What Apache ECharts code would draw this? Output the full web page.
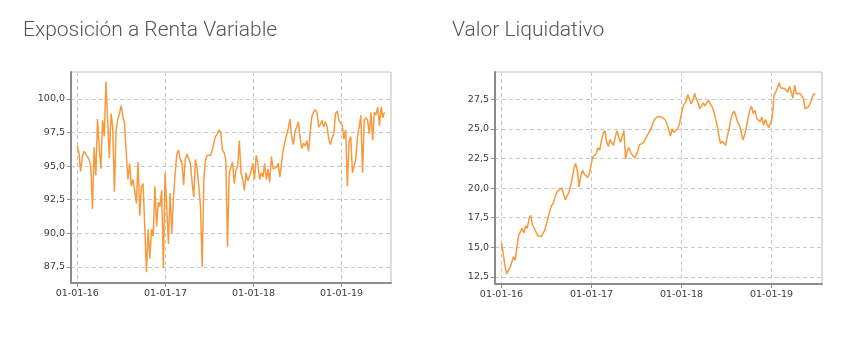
<!DOCTYPE html>
<html>
<head>
<meta charset="utf-8">
<script src="https://cdn.jsdelivr.net/npm/echarts@6/dist/echarts.min.js"></script>
<style>
  html, body { margin: 0; padding: 0; background: #fff; }
  #chart { width: 867px; height: 351px; }
</style>
</head>
<body>
<div id="chart"></div>
<script>
// weekly points, starting 01-01-2016 (one row = one quarter)
var startDate = Date.UTC(2016, 0, 1);
var stepDays = 7;

var exposicion = [
  96.5, 96.0, 94.6, 95.7, 96.1, 96.0, 95.7, 95.5, 95.0, 91.8, 96.4, 94.3, 98.5,
  96.4, 94.8, 98.4, 97.2, 101.3, 98.4, 95.6, 98.9, 97.9, 93.1, 97.7, 98.5, 98.9,
  99.5, 98.7, 98.2, 96.0, 94.0, 95.2, 93.5, 94.0, 93.2, 92.2, 95.3, 91.3, 93.5,
  93.7, 93.6, 87.1, 90.3, 88.1, 90.3, 89.8, 93.5, 90.5, 92.3, 92.0, 93.2, 87.4,
  94.5, 92.0, 89.2, 93.0, 90.0, 92.7, 94.5, 95.9, 96.2, 95.5, 95.2, 93.6, 95.5,
  95.9, 96.0, 95.2, 93.8, 92.7, 95.5, 94.8, 93.5, 92.0, 87.5, 94.0, 95.5, 95.8,
  95.8, 95.8, 96.2, 96.8, 97.2, 97.4, 97.7, 97.5, 96.2, 96.0, 95.5, 89.0, 94.5,
  94.5, 95.3, 93.7, 94.7, 95.0, 96.9, 94.5, 94.0, 93.2, 94.5, 93.9, 94.0, 94.6,
  95.2, 94.0, 95.8, 95.2, 94.0, 94.5, 94.2, 95.2, 94.0, 94.8, 93.8, 95.7, 94.8,
  94.7, 94.9, 95.2, 94.2, 95.2, 96.2, 96.8, 97.3, 97.8, 98.5, 97.2, 96.6, 97.6,
  97.9, 98.3, 97.1, 96.3, 96.7, 96.5, 96.9, 96.1, 97.5, 98.7, 99.0, 99.2, 99.0,
  97.9, 98.1, 98.4, 97.9, 98.3, 97.9, 97.0, 96.6, 97.1, 97.4, 98.9, 99.1, 98.4,
  98.2, 98.0, 97.0, 97.7, 93.5, 96.8, 97.2, 94.5, 95.0, 95.5, 97.2, 97.9, 98.8,
  94.5, 98.4, 98.6, 98.4, 97.4, 99.0, 96.9, 99.0, 98.8, 99.4, 98.0, 99.4, 98.6,
  99.0
];

var valorLiquidativo = [
  15.4, 14.5, 13.5, 12.75, 12.9, 13.3, 13.2, 14.2, 13.9, 15.0, 16.0, 15.9, 16.6,
  16.2, 16.8, 16.6, 17.4, 17.7, 16.9, 16.6, 16.3, 16.0, 16.0, 15.9, 16.0, 16.4,
  16.9, 17.5, 18.0, 18.5, 18.7, 19.2, 19.6, 19.8, 19.65, 20.0, 19.9, 19.0, 19.1,
  19.6, 20.1, 20.8, 21.6, 22.1, 21.5, 20.1, 21.0, 21.5, 21.2, 21.3, 20.9, 21.2,
  22.0, 22.6, 22.75, 22.95, 23.4, 23.2, 24.0, 24.6, 24.85, 23.9, 23.5, 24.1, 24.0,
  23.6, 24.3, 24.85, 24.3, 23.85, 24.0, 24.85, 22.45, 23.2, 23.4, 23.0, 22.75, 22.55,
  22.75, 23.1, 23.65, 23.8, 23.8, 24.0, 24.3, 24.55, 24.7, 25.1, 25.55, 25.85, 25.7,
  26.05, 25.9, 26.0, 25.95, 25.75, 25.4, 25.3, 24.4, 25.0, 24.7, 24.7, 25.0, 25.3,
  26.0, 26.7, 27.1, 27.3, 27.9, 27.85, 27.1, 27.4, 28.0, 27.5, 27.2, 26.7, 26.8,
  27.2, 26.95, 27.1, 27.4, 27.25, 26.9, 26.55, 25.95, 25.35, 24.5, 23.75, 23.95, 24.1,
  23.6, 24.4, 25.0, 25.8, 26.3, 26.5, 26.05, 25.55, 25.3, 24.75, 24.05, 24.5, 25.1,
  25.9, 26.6, 26.9, 26.3, 26.55, 25.9, 26.0, 25.6, 26.0, 25.3, 25.8, 25.4, 25.1,
  25.0, 25.9, 27.8, 28.1, 28.45, 28.9, 28.45, 28.3, 28.4, 28.3, 28.1, 28.6, 28.1,
  27.6, 28.7, 27.95, 27.9, 28.0, 28.1, 27.6, 26.7, 26.65, 26.85, 27.15, 27.6, 27.95,
  27.9
];

var yearTicks = [Date.UTC(2016, 0, 1), Date.UTC(2017, 0, 1), Date.UTC(2018, 0, 1), Date.UTC(2019, 0, 1)];
var xMin = Date.UTC(2015, 11, 6);
var xMax = Date.UTC(2019, 6, 25);
var ticksExposicion = [87.5, 90, 92.5, 95, 97.5, 100];
var ticksValor = [12.5, 15, 17.5, 20, 22.5, 25, 27.5];

function toSeries(values) {
    var out = [];
    for (var i = 0; i < values.length; i++) {
        out.push([startDate + i * stepDays * 86400000, values[i]]);
    }
    return out;
}

function pad(n) { return n < 10 ? '0' + n : '' + n; }
function fmtDate(v) {
    var d = new Date(v);
    return pad(d.getUTCDate()) + '-' + pad(d.getUTCMonth() + 1) + '-' + pad(d.getUTCFullYear() % 100);
}
function fmtNum(v) { return v.toFixed(1).replace('.', ','); }

var labelStyle = { color: '#3a3a3a', fontFamily: 'DejaVu Sans', fontSize: 9.5 };
var splitStyle = { show: true, lineStyle: { color: '#c8c8c8', type: [4, 3], width: 1 } };
var axisLineStyle = { show: true, lineStyle: { color: '#8c8c8c', width: 2 } };

// x axis as plain timestamps so the yearly ticks can be given explicitly
function xAxisCfg(idx) {
    return {
        type: 'value', gridIndex: idx, min: xMin, max: xMax, scale: true,
        axisLine: axisLineStyle,
        axisTick: { show: true, length: 4, customValues: yearTicks, lineStyle: { color: '#8c8c8c' } },
        axisLabel: Object.assign({ customValues: yearTicks, formatter: fmtDate, margin: 6 }, labelStyle),
        splitLine: splitStyle
    };
}
function yAxisCfg(idx, min, max, ticks) {
    return {
        type: 'value', gridIndex: idx, min: min, max: max,
        axisLine: axisLineStyle,
        axisTick: { show: true, length: 4, customValues: ticks, lineStyle: { color: '#8c8c8c' } },
        axisLabel: Object.assign({ customValues: ticks, formatter: fmtNum, margin: 6 }, labelStyle),
        splitLine: splitStyle
    };
}

var titleStyle = { color: '#555', fontFamily: 'Roboto', fontWeight: 300, fontSize: 21 };

var myChart = echarts.init(document.getElementById('chart'));
myChart.setOption({
    animation: false,
    title: [
        { text: 'Exposición a Renta Variable', left: 18, top: 15, textStyle: titleStyle },
        { text: 'Valor Liquidativo', left: 447, top: 15, textStyle: titleStyle }
    ],
    grid: [
        { left: 71, top: 72, right: 476, bottom: 68, show: true, borderColor: '#bdbdbd', borderWidth: 1 },
        { left: 495, top: 72, right: 45, bottom: 67, show: true, borderColor: '#bdbdbd', borderWidth: 1 }
    ],
    xAxis: [xAxisCfg(0), xAxisCfg(1)],
    yAxis: [
        yAxisCfg(0, 86.3, 102, ticksExposicion),
        yAxisCfg(1, 11.9, 29.8, ticksValor)
    ],
    series: [
        {
            type: 'line', xAxisIndex: 0, yAxisIndex: 0, data: toSeries(exposicion),
            showSymbol: false, lineStyle: { color: '#f79a3e', width: 1.5 }, itemStyle: { color: '#f79a3e' }
        },
        {
            type: 'line', xAxisIndex: 1, yAxisIndex: 1, data: toSeries(valorLiquidativo),
            showSymbol: false, lineStyle: { color: '#f79a3e', width: 1.5 }, itemStyle: { color: '#f79a3e' }
        }
    ]
});
</script>
</body>
</html>
